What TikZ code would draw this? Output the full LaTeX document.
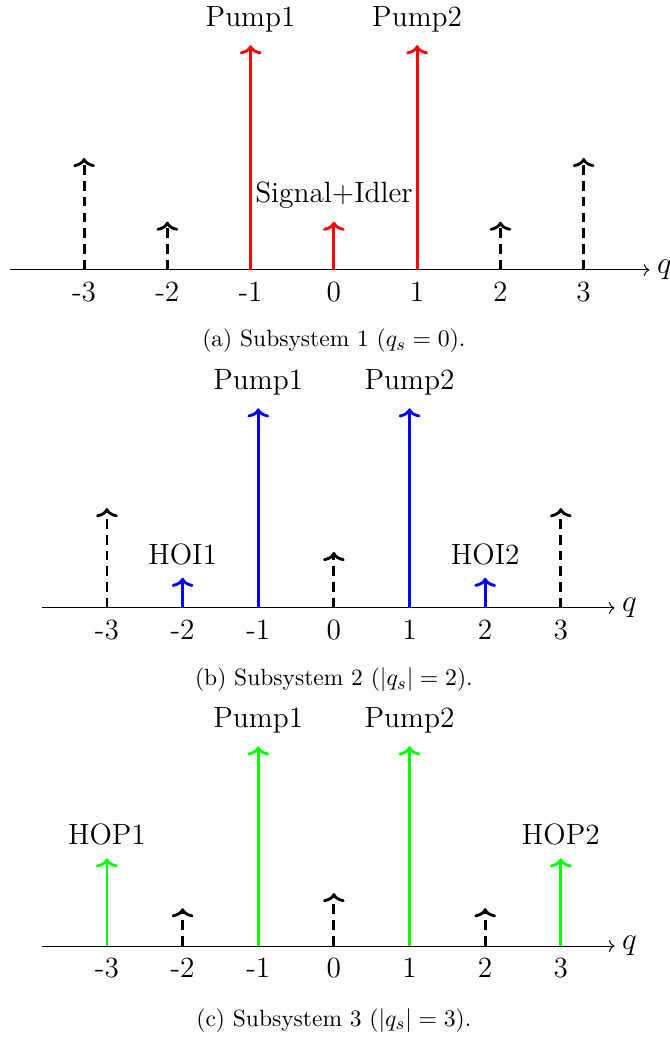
\documentclass[tikz,border=0pt]{standalone}
\usepackage{amsmath}
\usepackage{amssymb}
\usepackage{tikz}
\usetikzlibrary{arrows,arrows.meta}

\tikzset{
	axis/.style={->, line width=0.45pt},
	mode/.style={-{To[length=4.2pt,width=10pt]}, line width=1.3pt},
	idle/.style={mode, black, dash pattern=on 4.5pt off 2.8pt},
	lbl/.style={text=black, font=\fontsize{13.5}{16}\selectfont},
	captext/.style={font=\fontsize{10.8}{13}\selectfont}
}

\begin{document}
\begin{tikzpicture}
	\useasboundingbox (0,0) rectangle (308.2pt,478.9pt);

	% (a) subsystem 1
	\begin{scope}[shift={(153.6pt,354.7pt)},x=38.3pt,y=38.3pt]
		\coordinate (astart) at (-3.89,0);
		\node[lbl, right] (qa) at (3.79,0) {$q$};
		\draw[axis] (astart) -- (qa.west);
		\foreach \i in {-3,...,3} {
			\coordinate (a\i) at (\i,0);
			\node[lbl, below=2pt] (ta\i) at (a\i) {\i};
		}
		\draw[idle] (a-3) -- ++(0,1.345);
		\draw[idle] (a-2) -- ++(0,0.58);
		\draw[idle] (a2) -- ++(0,0.58);
		\draw[idle] (a3) -- ++(0,1.345);
		\draw[mode, red] (a-1) -- ++(0,2.7) node[lbl, above=2pt] (pump1a) {Pump1};
		\draw[mode, red] (a1) -- ++(0,2.7) node[lbl, above=2pt] (pump2a) {Pump2};
		\draw[mode, red] (a0) -- ++(0,0.58) node[lbl, above=2pt] (sia) {Signal+Idler};
		\node[captext] (capa) at (0,-0.85) {(a) Subsystem 1 ($q_s = 0$).};
	\end{scope}

	% (b) subsystem 2
	\begin{scope}[shift={(153.6pt,199.2pt)},x=34.8pt,y=34.8pt]
		\coordinate (bstart) at (-3.86,0);
		\node[lbl, right] (qb) at (3.71,0) {$q$};
		\draw[axis] (bstart) -- (qb.west);
		\foreach \i in {-3,...,3} {
			\coordinate (b\i) at (\i,0);
			\node[lbl, below=2pt] (tb\i) at (b\i) {\i};
		}
		\draw[idle] (b-3) -- ++(0,1.32);
		\draw[idle] (b0) -- ++(0,0.74);
		\draw[idle] (b3) -- ++(0,1.32);
		\draw[mode, blue] (b-1) -- ++(0,2.64) node[lbl, above=2pt] (pump1b) {Pump1};
		\draw[mode, blue] (b1) -- ++(0,2.64) node[lbl, above=2pt] (pump2b) {Pump2};
		\draw[mode, blue] (b-2) -- ++(0,0.4) node[lbl, above=2pt] (hoi1) {HOI1};
		\draw[mode, blue] (b2) -- ++(0,0.4) node[lbl, above=2pt] (hoi2) {HOI2};
		\node[captext] (capb) at (0,-0.95) {(b) Subsystem 2 ($|q_s| = 2$).};
	\end{scope}

	% (c) subsystem 3
	\begin{scope}[shift={(153.6pt,43.7pt)},x=34.8pt,y=34.8pt]
		\coordinate (cstart) at (-3.86,0);
		\node[lbl, right] (qc) at (3.71,0) {$q$};
		\draw[axis] (cstart) -- (qc.west);
		\foreach \i in {-3,...,3} {
			\coordinate (c\i) at (\i,0);
			\node[lbl, below=2pt] (tc\i) at (c\i) {\i};
		}
		\draw[idle] (c-2) -- ++(0,0.5);
		\draw[idle] (c0) -- ++(0,0.7);
		\draw[idle] (c2) -- ++(0,0.5);
		\draw[mode, green] (c-1) -- ++(0,2.64) node[lbl, above=2pt] (pump1c) {Pump1};
		\draw[mode, green] (c1) -- ++(0,2.64) node[lbl, above=2pt] (pump2c) {Pump2};
		\draw[mode, green] (c-3) -- ++(0,1.16) node[lbl, above=2pt] (hop1) {HOP1};
		\draw[mode, green] (c3) -- ++(0,1.16) node[lbl, above=2pt] (hop2) {HOP2};
		\node[captext] (capc) at (0,-0.98) {(c) Subsystem 3 ($|q_s| = 3$).};
	\end{scope}
\end{tikzpicture}
\end{document}
